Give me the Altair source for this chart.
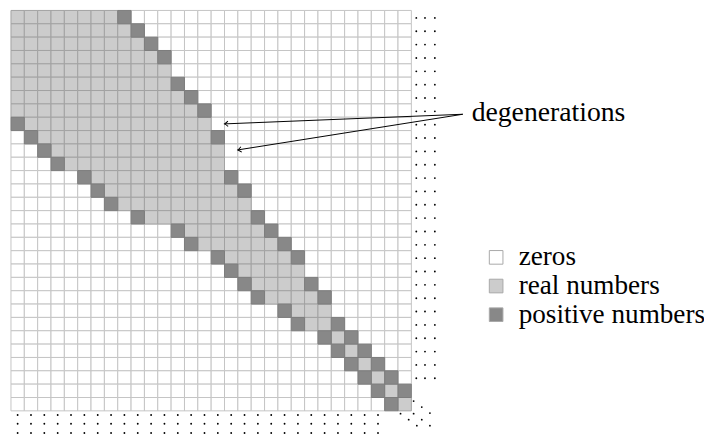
import math
import altair as alt
import pandas as pd

N = 30  # matrix size (rows = columns)

# first non-zero column of each row, and whether that cell is a positive number
lower_start = [0, 0, 0, 0, 0, 0, 0, 0, 0, 1, 2, 3, 5, 6, 7, 9, 12, 13, 15, 16,
               17, 18, 20, 21, 23, 24, 25, 26, 27, 28]
lower_dark = [0, 0, 0, 0, 0, 0, 0, 0, 1, 1, 1, 1, 1, 1, 1, 1, 1, 1, 1, 1,
              1, 1, 1, 1, 1, 1, 1, 1, 1, 1]
# last non-zero column of each row, and whether that cell is a positive number
upper_end = [8, 9, 10, 11, 11, 12, 13, 14, 14, 15, 15, 15, 16, 17, 17, 18, 19, 20, 21, 21,
             22, 23, 23, 24, 25, 26, 27, 28, 29, 29]
upper_dark = [1, 1, 1, 1, 0, 1, 1, 1, 0, 1, 0, 0, 1, 1, 0, 1, 1, 1, 1, 0,
              1, 1, 0, 1, 1, 1, 1, 1, 1, 0]

categories = ["zeros", "real numbers", "positive numbers"]
fills = ["#ffffff", "#cccccc", "#888888"]
strokes = ["#c4c4c4", "#a2a2a2", "#7c7c7c"]

# arrows of the "degenerations" annotation: tips in cell units
arrow_tip_col = [16.0, 17.0]
arrow_tip_row = [8.5, 10.45]
label_text = "degenerations"

FONT = "Liberation Serif, DejaVu Serif, serif"
CELL = 13.5          # px per cell
PLOT = CELL * N      # plot area (square)
PAD_L, PAD_T = 3, 0


def to_col(px):
    return (px - 8 - PAD_L) / CELL


def to_row(py):
    return (py - 8 - PAD_T) / CELL


# ---- matrix cells
rows = []
for r in range(N):
    lo, hi = lower_start[r], upper_end[r]
    for c in range(N):
        if c < lo or c > hi:
            cat = 0
        elif (c == lo and lower_dark[r]) or (c == hi and upper_dark[r]):
            cat = 2
        else:
            cat = 1
        rows.append(dict(r=r, c=c, r2=r + 1, c2=c + 1, kind=categories[cat],
                         order=cat, stroke=strokes[cat]))
cells = pd.DataFrame(rows).sort_values("order", kind="stable")

xs = alt.Scale(domain=[0, N], nice=False, zero=False)
ys = alt.Scale(domain=[0, N], nice=False, zero=False, reverse=True)

rect = alt.Chart(cells).mark_rect(strokeWidth=1).encode(
    x=alt.X("c:Q", scale=xs, axis=None),
    x2="c2:Q",
    y=alt.Y("r:Q", scale=ys, axis=None),
    y2="r2:Q",
    fill=alt.Fill("kind:N", scale=alt.Scale(domain=categories, range=fills),
                  sort=categories,
                  legend=alt.Legend(title=None, orient="none", legendX=477, legendY=236,
                                    symbolType="square", symbolSize=190,
                                    symbolStrokeColor="#a8a8a8", symbolStrokeWidth=1,
                                    labelFont=FONT, labelFontSize=27.5, labelLimit=0,
                                    labelColor="black", labelOffset=9,
                                    rowPadding=0, padding=0)),
    stroke=alt.Stroke("stroke:N", scale=None),
)

# ---- ellipsis dots: right of rows, below columns, diagonal in the corner
dots = []
for r in range(N - 2):
    for dx in (30.37, 31.02, 31.76):
        dots.append(dict(x=dx, y=r + 0.56))
for c in range(N - 2):
    for dy in (30.31, 30.97, 31.66):
        dots.append(dict(x=c + 0.5, y=dy))
for bx, by in ((30.17, 29.27), (29.19, 30.21), (30.17, 30.21)):
    for k in range(3):
        dots.append(dict(x=bx + 0.61 * k, y=by + 0.45 * k))
dots = pd.DataFrame(dots)
dot_layer = alt.Chart(dots).mark_circle(size=3.5, color="black", opacity=1).encode(
    x=alt.X("x:Q", scale=xs), y=alt.Y("y:Q", scale=ys))

# ---- annotation arrows
ox, oy = to_col(468), to_row(113)
arr = pd.DataFrame(dict(x=[ox] * 2, y=[oy] * 2, x2=arrow_tip_col, y2=arrow_tip_row))
arr["angle"] = [(math.degrees(math.atan2(oy - ty, ox - tx)) + 360) % 360
                for tx, ty in zip(arrow_tip_col, arrow_tip_row)]
lines = alt.Chart(arr).mark_rule(color="black", strokeWidth=1).encode(
    x=alt.X("x:Q", scale=xs), y=alt.Y("y:Q", scale=ys), x2="x2:Q", y2="y2:Q")
heads = alt.Chart(arr).mark_point(
    shape="M 1.3 -1 Q 0.4 -0.2 0 0 Q 0.4 0.2 1.3 1", filled=False, color="black",
    strokeWidth=1, size=30, opacity=1).encode(
    x=alt.X("x2:Q", scale=xs), y=alt.Y("y2:Q", scale=ys),
    angle=alt.Angle("angle:Q", scale=None))

lab = pd.DataFrame(dict(x=[to_col(477)], y=[to_row(120)], t=[label_text]))
text = alt.Chart(lab).mark_text(align="left", baseline="alphabetic",
                                font=FONT, fontSize=28, color="black").encode(
    x=alt.X("x:Q", scale=xs), y=alt.Y("y:Q", scale=ys), text="t:N")

chart = alt.layer(rect, dot_layer, lines, heads, text).properties(
    width=PLOT, height=PLOT, autosize="none",
    padding={"left": PAD_L, "top": PAD_T, "right": 704 - PAD_L - PLOT, "bottom": 431 - PAD_T - PLOT},
).configure_view(strokeWidth=0)

chart.save("out.html", embed_options={"renderer": "svg", "actions": False})
